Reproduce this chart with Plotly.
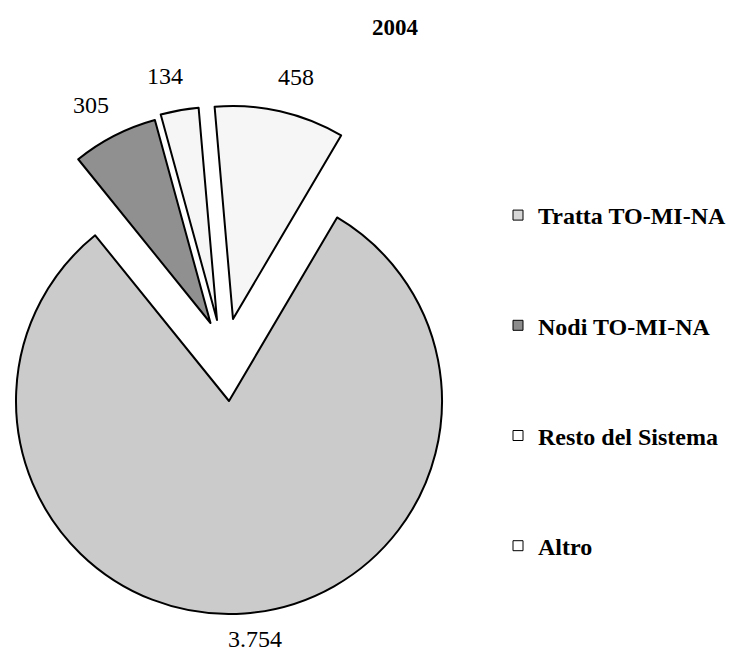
import math
import plotly.graph_objects as go

# ---- data ----
labels = ["Tratta TO-MI-NA", "Nodi TO-MI-NA", "Resto del Sistema", "Altro"]
values = [3754, 305, 134, 458]
title_text = "2004"

# ---- styles ----
slice_colors = ["#cbcbcb", "#909090", "#f6f6f6", "#f6f6f6"]
legend_colors = ["#d6d6d6", "#8c8c8c", "#ffffff", "#ffffff"]
FONT = "Liberation Serif, Times New Roman, serif"

W, H = 735, 656
# exploded-slice centres (px) and radius for each slice
slice_geom = [(229, 401, 213), (210.5, 323, 210.5), (217, 320, 213), (233, 319, 213)]
ROTATION = 30.5
LABEL_GAP = 35
LABEL_SIZE = 24

value_text = [f"{v:,}".replace(",", ".") for v in values]


def dom(cx, cy, r):
    x0 = max(0.0, (cx - r) / W)
    x1 = min(1.0, (cx + r) / W)
    y0 = max(0.0, 1 - (cy + r) / H)
    y1 = min(1.0, 1 - (cy - r) / H)
    return dict(x=[x0, x1], y=[y0, y1])


fig = go.Figure()

total = sum(values)
cum = 0
annotations = []
for i, (cx, cy, r) in enumerate(slice_geom):
    colors = [c if j == i else "rgba(0,0,0,0)" for j, c in enumerate(slice_colors)]
    widths = [2 if j == i else 0 for j in range(len(labels))]
    fig.add_trace(go.Pie(
        labels=labels, values=values, sort=False, direction="clockwise",
        rotation=ROTATION, domain=dom(cx, cy, r),
        marker=dict(colors=colors, line=dict(color="black", width=widths)),
        textinfo="none", showlegend=False, hoverinfo="label+value",
    ))
    # value label just outside the middle of the slice
    mid = math.radians(ROTATION + (cum + values[i] / 2) / total * 360)
    cum += values[i]
    sx, sy = math.sin(mid), -math.cos(mid)
    px = cx + (r + LABEL_GAP) * sx + 8 * (1 if sx >= 0 else -1)
    py = cy + (r + LABEL_GAP) * sy
    py = min(py, H - LABEL_SIZE * 0.72)   # keep the text box inside the page
    annotations.append(dict(
        text=value_text[i], x=px / W, y=1 - py / H, xref="paper", yref="paper",
        xanchor="center", yanchor="middle", showarrow=False,
        font=dict(family=FONT, size=LABEL_SIZE, color="black"),
    ))

for i, lab in enumerate(labels):
    fig.add_trace(go.Scatter(
        x=[None], y=[None], mode="markers", name=lab, legendgroup=lab,
        marker=dict(symbol="square", size=10, color=legend_colors[i],
                    line=dict(color="black", width=1)),
        showlegend=True,
    ))

fig.update_layout(
    width=W, height=H,
    margin=dict(l=0, r=0, t=0, b=0, autoexpand=False),
    paper_bgcolor="white", plot_bgcolor="white",
    xaxis=dict(visible=False), yaxis=dict(visible=False),
    title=dict(text=f"<b>{title_text}</b>", x=395 / W, xanchor="center",
               y=1 - 27 / H, yanchor="middle",
               font=dict(family=FONT, size=23, color="black")),
    annotations=annotations,
    showlegend=True,
    legend=dict(x=498 / W, xanchor="left", y=1 - 193 / H, yanchor="top",
                traceorder="grouped", tracegroupgap=76,
                font=dict(family=FONT, size=24, color="black", weight="bold"),
                itemclick=False, bgcolor="rgba(0,0,0,0)"),
)

fig.write_html("out.html", config={"displayModeBar": False},
               post_script="document.body.style.margin='0px';")
